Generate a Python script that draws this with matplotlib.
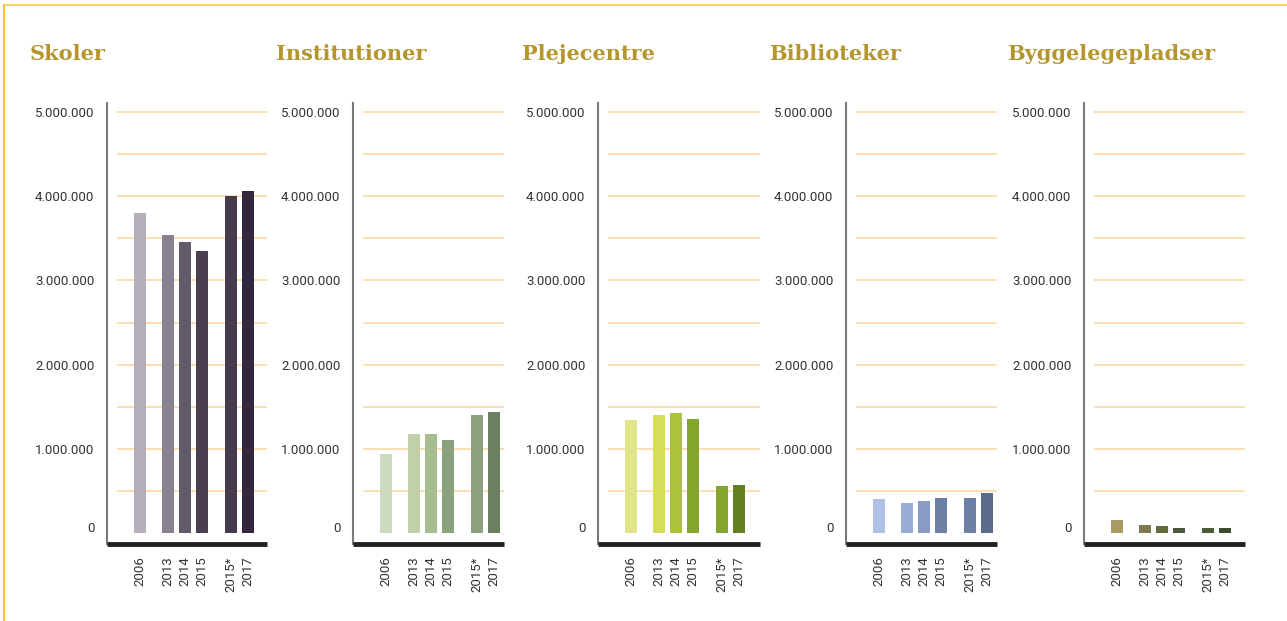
# Bar panels: energy use per building type

import matplotlib.pyplot as plt
from matplotlib.lines import Line2D

years = ["2006", "2013", "2014", "2015", "2015*", "2017"]
positions = [0, 1.65, 2.65, 3.65, 5.35, 6.35]

titles = ["Skoler", "Institutioner", "Plejecentre", "Biblioteker", "Byggelegepladser"]

skoler = [3800000, 3540000, 3460000, 3350000, 4000000, 4060000]
institutioner = [940000, 1180000, 1180000, 1100000, 1400000, 1440000]
plejecentre = [1340000, 1400000, 1430000, 1350000, 560000, 570000]
biblioteker = [400000, 360000, 380000, 420000, 420000, 480000]
byggelegepladser = [150000, 100000, 85000, 60000, 60000, 60000]

series = [skoler, institutioner, plejecentre, biblioteker, byggelegepladser]

colors = [
   ["#b3aeb9", "#8a8190", "#625a68", "#4a3f50", "#463b4c", "#33273e"],
   ["#cddabf", "#c1d0a9", "#a5bd91", "#8ba17e", "#8ba17e", "#6b8060"],
   ["#e1e58a", "#d5de5b", "#adc13c", "#84a42d", "#84a42d", "#637f20"],
   ["#afc0e4", "#98add6", "#879bc4", "#6b80a4", "#6b80a4", "#5c6b8c"],
   ["#a89a64", "#7e7a50", "#636a3e", "#4b5a3a", "#4b5a3a", "#3b4a2d"],
]

ytick_vals = [70000, 1000000, 2000000, 3000000, 4000000, 5000000]
ytick_labels = ["0", "1.000.000", "2.000.000", "3.000.000", "4.000.000", "5.000.000"]
grid_vals = [500000 * k for k in range(1, 11)]

# pixel layout (figure is 1287 x 621)
W, H = 1287, 621
axis_x = [107, 353, 598, 846, 1084]
axis_w = [160, 151, 162, 151, 161]
title_x = [30, 276, 522, 769, 1007]
ax_top, ax_bottom = 103, 544
px_per_unit = 17.0
x0 = -1.94

fig = plt.figure(figsize=(W / 100, H / 100), dpi=100)

for i, vals in enumerate(series):
   ax = fig.add_axes([axis_x[i] / W, 1 - ax_bottom / H, axis_w[i] / W, (ax_bottom - ax_top) / H])
   ax.bar(positions, vals, width=0.7, color=colors[i], zorder=3)
   x1 = x0 + axis_w[i] / px_per_unit
   ax.hlines(grid_vals, x0 + 10 / px_per_unit, x1, color="#fad9a6", linewidth=1.2, zorder=1)
   ax.set_xlim(x0, x1)
   ax.set_ylim(-130000, 5107000)
   ax.set_yticks(ytick_vals)
   ax.set_yticklabels(ytick_labels, fontsize=9.5, color="#333333", family="Roboto")
   ax.set_xticks(positions)
   ax.set_xticklabels(years, rotation=90, fontsize=9.5, color="#333333", va="top", family="Roboto")
   ax.tick_params(axis="y", length=0, pad=9)
   ax.tick_params(axis="x", length=0, pad=9)
   for s in ["top", "right"]:
      ax.spines[s].set_visible(False)
   ax.spines["left"].set_color("#7a7a7a")
   ax.spines["left"].set_linewidth(1.5)
   ax.spines["bottom"].set_color("#222222")
   ax.spines["bottom"].set_linewidth(3.5)
   ax.spines["bottom"].set_capstyle("butt")
   fig.text(title_x[i] / W, 1 - 54 / H, titles[i], fontsize=15, fontweight="bold",
            family="DejaVu Serif", color="#b5962e", va="center", ha="left")

# thin golden frame on top and left
fig.add_artist(Line2D([4 / W, 1], [1 - 5 / H, 1 - 5 / H], color="#f8d36a", linewidth=1.5))
fig.add_artist(Line2D([4 / W, 4 / W], [0, 1 - 5 / H], color="#f7c331", linewidth=1.5))

plt.savefig("out.png", dpi=100)
